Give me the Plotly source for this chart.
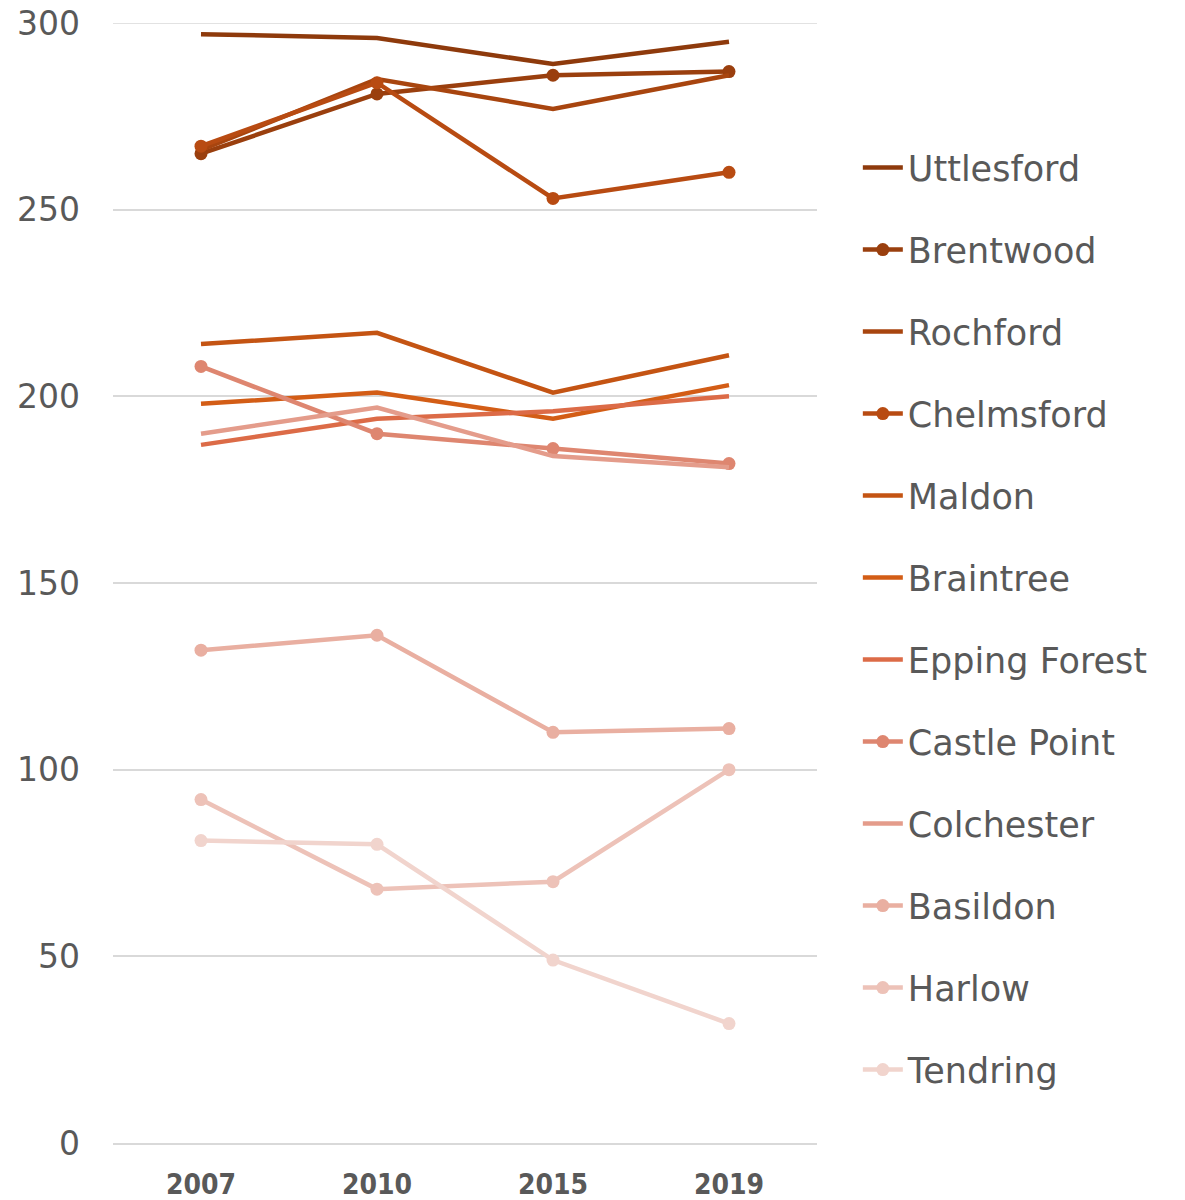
import plotly.graph_objects as go

years = ["2007", "2010", "2015", "2019"]
names = ["Uttlesford", "Brentwood", "Rochford", "Chelmsford", "Maldon", "Braintree",
         "Epping Forest", "Castle Point", "Colchester", "Basildon", "Harlow", "Tendring"]
uttlesford = [297, 296, 289, 295]
brentwood = [265, 281, 286, 287]
rochford = [266, 285, 277, 286]
chelmsford = [267, 284, 253, 260]
maldon = [214, 217, 201, 211]
braintree = [198, 201, 194, 203]
epping_forest = [187, 194, 196, 200]
castle_point = [208, 190, 186, 182]
colchester = [190, 197, 184, 181]
basildon = [132, 136, 110, 111]
harlow = [92, 68, 70, 100]
tendring = [81, 80, 49, 32]
series = [uttlesford, brentwood, rochford, chelmsford, maldon, braintree,
          epping_forest, castle_point, colchester, basildon, harlow, tendring]
has_markers = [False, True, False, True, False, False, False, True, False, True, True, True]
colors = ["#8E3A0C", "#9A3F0E", "#A8450F", "#B84B12", "#C45413", "#D35D16",
          "#DC6B47", "#DE8670", "#E49C8B", "#E9AFA1", "#EDC2B8", "#F1D4CD"]
y_ticks = [0, 50, 100, 150, 200, 250, 300]
y_max = 300

fig = go.Figure()
for i, (n, v) in enumerate(zip(names, series)):
    fig.add_trace(go.Scatter(
        x=years, y=v, name=n, legendgroup=n,
        mode="lines+markers" if has_markers[i] else "lines",
        line=dict(color=colors[i], width=4.5),
        marker=dict(color=colors[i], size=13),
        cliponaxis=False,
    ))

# top gridline (plotly omits the grid line at the range edge)
fig.add_shape(type="line", xref="paper", yref="y", x0=0, x1=1, y0=y_max, y1=y_max,
              line=dict(color="#d9d9d9", width=1.5), layer="below")

fig.update_layout(
    width=1185, height=1200,
    margin=dict(l=105, r=376, t=15, b=65, autoexpand=False),
    plot_bgcolor="white", paper_bgcolor="white",
    font=dict(family="DejaVu Sans", color="#595959"),
    showlegend=True,
    legend=dict(x=1.058, y=0.897, xanchor="left", yanchor="top",
                font=dict(size=35, color="#595959", family="DejaVu Sans"),
                tracegroupgap=33.5, traceorder="grouped", itemwidth=40),
    xaxis=dict(type="category", range=[-0.5, 3.5], showgrid=False, automargin=False,
               showline=True, linecolor="#d9d9d9", linewidth=1.5,
               ticks="", tickfont=dict(size=28, family="DejaVu Sans Condensed", color="#595959",
                                       weight="bold"),
               ticklabelstandoff=16, ticklabeloverflow="allow"),
    yaxis=dict(range=[0, y_max], tickvals=y_ticks, showgrid=True, gridcolor="#d9d9d9",
               gridwidth=1.5, zeroline=False, showline=False, ticks="", automargin=False,
               tickfont=dict(size=33, color="#595959", family="DejaVu Sans"),
               ticklabelstandoff=32, ticklabeloverflow="allow"),
)

fig.write_html("out.html")
